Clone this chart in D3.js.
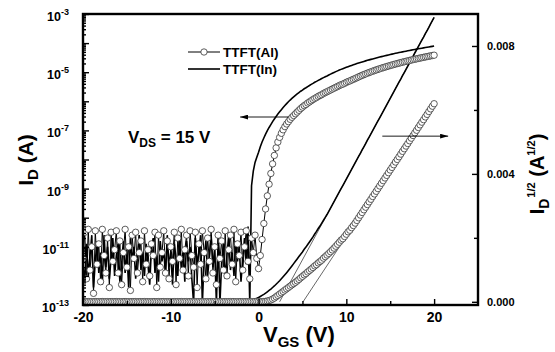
<!DOCTYPE html>
<html>
<head>
<meta charset="utf-8">
<script src="https://cdn.jsdelivr.net/npm/d3@7"></script>
<style>
  body { margin: 0; background: #fff; }
  svg { font-family: Arial, "Liberation Sans", sans-serif; }
</style>
</head>
<body>
<div id="chart"></div>
<script>
// gate voltage sweep: -20 V .. 20 V, 0.2 V per point
const vStart = -20;
const vStep = 0.2;

// log10(I_D) of TTFT(Al), one value per sweep point
const alLogId = [
  // off state, -20 .. -0.2 V
  -11.4, -10.5, -12.1, -10.4, -11.8, -11.0, -12.6, -10.45, -11.6, -10.9,
  -12.2, -10.4, -11.3, -11.9, -10.7, -12.4, -10.5, -11.5, -11.1, -10.45,
  -11.9, -10.8, -12.3, -11.2, -10.4, -11.7, -11.0, -12.5, -10.6, -11.4,
  -10.5, -11.9, -11.2, -10.8, -12.2, -10.45, -11.6, -11.1, -12.0, -10.9,
  -11.3, -10.5, -12.4, -10.6, -11.7, -11.2, -10.45, -11.9, -10.8, -12.1,
  -11.0, -11.5, -10.5, -12.3, -10.7, -11.4, -10.4, -11.8, -11.1, -10.6,
  -12.0, -10.45, -11.3, -11.7, -10.5, -12.4, -10.9, -11.6, -10.45, -11.2,
  -12.1, -10.7, -11.5, -10.4, -11.9, -11.0, -12.3, -10.6, -11.4, -10.8,
  -11.8, -10.45, -12.0, -11.1, -10.6, -11.6, -10.4, -12.2, -10.9, -11.3,
  -10.5, -11.8, -11.0, -10.45, -11.5, -12.1, -10.7, -11.2, -10.6, -11.4,
  // on state, 0 .. 20 V
  -11.75, -11.3, -10.75, -10.2, -9.7, -9.25, -8.85, -8.48, -8.15, -7.86,
  -7.6, -7.4, -7.24, -7.1, -6.98, -6.87, -6.78, -6.7, -6.62, -6.55,
  -6.49, -6.43, -6.37, -6.31, -6.25, -6.2, -6.15, -6.11, -6.06, -6.02,
  -5.98, -5.94, -5.9, -5.87, -5.83, -5.8, -5.77, -5.73, -5.7, -5.67,
  -5.64, -5.61, -5.58, -5.55, -5.52, -5.49, -5.46, -5.43, -5.41, -5.38,
  -5.35, -5.32, -5.3, -5.27, -5.245, -5.218, -5.189, -5.161, -5.134, -5.108,
  -5.082, -5.058, -5.034, -5.01, -4.988, -4.965, -4.944, -4.923, -4.902, -4.882,
  -4.862, -4.843, -4.824, -4.806, -4.788, -4.77, -4.753, -4.736, -4.719, -4.703,
  -4.687, -4.671, -4.655, -4.64, -4.625, -4.611, -4.596, -4.582, -4.568, -4.554,
  -4.541, -4.527, -4.514, -4.501, -4.489, -4.476, -4.464, -4.451, -4.439, -4.427,
  -4.416
];

// log10(I_D) of TTFT(In), one value per sweep point
const inLogId = [
  // off state, -20 .. -1.4 V
  -11.6, -12.2, -10.9, -12.0, -11.3, -10.6, -12.4, -11.5, -10.8, -11.9,
  -11.2, -12.3, -10.6, -11.7, -11.0, -12.1, -11.4, -10.7, -12.0, -11.3,
  -10.9, -12.2, -11.6, -10.8, -11.9, -11.1, -12.4, -10.7, -11.5, -11.0,
  -12.1, -11.3, -10.6, -11.8, -11.2, -12.0, -10.9, -11.6, -12.3, -11.0,
  -10.7, -11.9, -11.3, -12.2, -10.8, -11.5, -11.1, -12.0, -10.6, -11.7,
  -11.2, -12.3, -10.9, -11.4, -12.0, -10.7, -11.8, -11.1, -12.2, -10.8,
  -11.5, -11.0, -12.1, -12.95, -10.7, -11.6, -11.2, -10.6, -12.95, -11.4,
  -10.8, -12.0, -11.3, -10.6, -11.7, -11.1, -12.95, -10.7, -12.95, -11.5,
  -10.9, -12.1, -11.3, -10.6, -11.8, -11.2, -12.0, -10.8, -11.5, -11.0,
  -12.2, -11.4, -10.7, -11.6,
  // turn on, -1.2 .. 20 V
  -10.3, -12.95, -8.9, -8.4, -8.1, -7.92,
  -7.75, -7.56, -7.4, -7.26, -7.13, -7.01, -6.9, -6.8, -6.7, -6.61,
  -6.52, -6.44, -6.362, -6.287, -6.215, -6.146, -6.08, -6.017, -5.957, -5.9,
  -5.846, -5.795, -5.746, -5.699, -5.654, -5.614, -5.57, -5.534, -5.494, -5.456,
  -5.42, -5.385, -5.347, -5.315, -5.28, -5.251, -5.218, -5.187, -5.157, -5.128,
  -5.097, -5.067, -5.037, -5.009, -4.981, -4.954, -4.928, -4.903, -4.879, -4.855,
  -4.832, -4.809, -4.787, -4.766, -4.745, -4.724, -4.704, -4.685, -4.666, -4.647,
  -4.629, -4.611, -4.593, -4.576, -4.559, -4.543, -4.527, -4.511, -4.495, -4.48,
  -4.465, -4.45, -4.435, -4.421, -4.407, -4.393, -4.379, -4.366, -4.352, -4.339,
  -4.326, -4.314, -4.301, -4.289, -4.277, -4.265, -4.253, -4.241, -4.23, -4.218,
  -4.207, -4.196, -4.185, -4.174, -4.164, -4.153, -4.143, -4.133, -4.122, -4.112,
  -4.102
];

// straight-line fits of sqrt(I_D) used for the threshold voltage
const inFitV = [2.4, 20];
const inFitSqrt = [0, 0.00889];
const alFitV = [5.07, 20];
const alFitSqrt = [0, 0.0062];

// ticks
const xTicks = [-20, -10, 0, 10, 20];
const xMinorTicks = [-15, -5, 5, 15];
const yLogLabels = [-13, -11, -9, -7, -5, -3];
const yRightTicks = [0, 0.004, 0.008];
const yRightMinorTicks = [0.002, 0.006];

const width = 555, height = 352;
const margin = { top: 14, right: 77, bottom: 47, left: 83 };

const svg = d3.select("#chart").append("svg")
  .attr("width", width)
  .attr("height", height);

svg.append("rect").attr("width", width).attr("height", height).attr("fill", "#fff");

const x = d3.scaleLinear().domain([-20, 25]).range([margin.left, width - margin.right]);
const yLog = d3.scaleLog().domain([1e-13, 1e-3]).range([height - margin.bottom, margin.top]);
const yR = d3.scaleLinear().domain([-0.0001, 0.009]).range([height - margin.bottom, margin.top]);

const vAt = i => vStart + i * vStep;
const alData = alLogId.map((e, i) => ({ v: vAt(i), id: Math.pow(10, e) }));
const inData = inLogId.map((e, i) => ({ v: vAt(i), id: Math.pow(10, e) }));

svg.append("defs").append("clipPath").attr("id", "plot-clip")
  .append("rect")
  .attr("x", margin.left).attr("y", margin.top)
  .attr("width", width - margin.left - margin.right)
  .attr("height", height - margin.top - margin.bottom);

const plot = svg.append("g").attr("clip-path", "url(#plot-clip)");

const logLine = d3.line().x(d => x(d.v)).y(d => yLog(d.id));
const sqrtLine = d3.line().x(d => x(d.v)).y(d => yR(Math.sqrt(d.id)));

// thin fit lines
const fitLine = d3.line().x(d => x(d[0])).y(d => yR(d[1]));
plot.append("path")
  .attr("d", fitLine(d3.zip(inFitV, inFitSqrt)))
  .attr("fill", "none").attr("stroke", "#000").attr("stroke-width", 0.6);
plot.append("path")
  .attr("d", fitLine(d3.zip(alFitV, alFitSqrt)))
  .attr("fill", "none").attr("stroke", "#000").attr("stroke-width", 0.6);

// TTFT(In): solid lines
plot.append("path").attr("d", logLine(inData))
  .attr("fill", "none").attr("stroke", "#000").attr("stroke-width", 1.6);
plot.append("path").attr("d", sqrtLine(inData))
  .attr("fill", "none").attr("stroke", "#000").attr("stroke-width", 1.6);

// TTFT(Al): line + open circles
plot.append("path").attr("d", logLine(alData))
  .attr("fill", "none").attr("stroke", "#000").attr("stroke-width", 1);
plot.append("path").attr("d", sqrtLine(alData))
  .attr("fill", "none").attr("stroke", "#000").attr("stroke-width", 1);

plot.selectAll("circle.al-log")
  .data(alData)
  .join("circle")
  .attr("class", "al-log")
  .attr("cx", d => x(d.v))
  .attr("cy", d => yLog(d.id))
  .attr("r", 3.2)
  .attr("fill", "#fff").attr("stroke", "#333").attr("stroke-width", 0.8);

plot.selectAll("circle.al-sqrt")
  .data(alData)
  .join("circle")
  .attr("class", "al-sqrt")
  .attr("cx", d => x(d.v))
  .attr("cy", d => yR(Math.sqrt(d.id)))
  .attr("r", 3.2)
  .attr("fill", "#fff").attr("stroke", "#333").attr("stroke-width", 0.8);

// frame
svg.append("rect")
  .attr("x", margin.left).attr("y", margin.top)
  .attr("width", width - margin.left - margin.right)
  .attr("height", height - margin.top - margin.bottom)
  .attr("fill", "none").attr("stroke", "#000").attr("stroke-width", 2.4);

// bottom axis, ticks point inward
const xAxisG = svg.append("g")
  .attr("transform", `translate(0,${height - margin.bottom})`)
  .call(d3.axisBottom(x).tickValues(xTicks).tickSize(-6).tickPadding(7).tickFormat(d => String(d)));
svg.append("g")
  .attr("transform", `translate(0,${height - margin.bottom})`)
  .call(d3.axisBottom(x).tickValues(xMinorTicks).tickSize(-4).tickFormat(""));

// left log axis
const decades = d3.range(-13, -2).map(e => Math.pow(10, e));
const minorLog = [];
d3.range(-13, -3).forEach(e => d3.range(2, 10).forEach(m => minorLog.push(m * Math.pow(10, e))));
svg.append("g")
  .attr("transform", `translate(${margin.left},0)`)
  .call(d3.axisLeft(yLog).tickValues(decades).tickSize(-6).tickFormat(""));
svg.append("g")
  .attr("transform", `translate(${margin.left},0)`)
  .call(d3.axisLeft(yLog).tickValues(minorLog).tickSize(-3).tickFormat(""));

const yLabels = svg.append("g").attr("font-weight", "bold").attr("fill", "#000");
yLogLabels.forEach(e => {
  const t = yLabels.append("text")
    .attr("x", 69)
    .attr("y", yLog(Math.pow(10, e)) + 7)
    .attr("text-anchor", "end")
    .attr("font-size", 12.5);
  t.append("tspan").text("10");
  t.append("tspan").attr("dy", -6).attr("font-size", 9).text(String(e));
});

// right sqrt axis
const rAxisG = svg.append("g")
  .attr("transform", `translate(${width - margin.right},0)`)
  .call(d3.axisRight(yR).tickValues(yRightTicks).tickSize(-6).tickPadding(9).tickFormat(d3.format(".3f")));
svg.append("g")
  .attr("transform", `translate(${width - margin.right},0)`)
  .call(d3.axisRight(yR).tickValues(yRightMinorTicks).tickSize(-4).tickFormat(""));

svg.selectAll(".domain").remove();
svg.selectAll(".tick line").attr("stroke", "#000").attr("stroke-width", 1.4);
svg.selectAll(".tick text").attr("font-family", "Arial, 'Liberation Sans', sans-serif").attr("font-weight", "bold").attr("fill", "#000");
xAxisG.selectAll(".tick text").attr("font-size", 14);
rAxisG.selectAll(".tick text").attr("font-size", 11);

// axis titles
const xTitle = svg.append("text")
  .attr("x", 263).attr("y", 342)
  .attr("font-size", 22).attr("font-weight", "bold");
xTitle.append("tspan").text("V");
xTitle.append("tspan").attr("dy", 5).attr("font-size", 15).text("GS");
xTitle.append("tspan").attr("dy", -5).text(" (V)");

const yTitle = svg.append("text")
  .attr("transform", "translate(33,160) rotate(-90)")
  .attr("text-anchor", "middle")
  .attr("font-size", 21).attr("font-weight", "bold");
yTitle.append("tspan").text("I");
yTitle.append("tspan").attr("dy", 5).attr("font-size", 15).text("D");
yTitle.append("tspan").attr("dy", -5).text(" (A)");

const rTitle = svg.append("text")
  .attr("transform", "translate(544,174) rotate(-90)")
  .attr("text-anchor", "middle")
  .attr("font-size", 20).attr("font-weight", "bold");
rTitle.append("tspan").text("I");
rTitle.append("tspan").attr("dy", 5).attr("font-size", 14).text("D");
rTitle.append("tspan").attr("dy", -14).attr("font-size", 11).attr("dx", 1).text("1/2");
rTitle.append("tspan").attr("dy", 9).text(" (A");
rTitle.append("tspan").attr("dy", -9).attr("font-size", 11).text("1/2");
rTitle.append("tspan").attr("dy", 9).text(")");

// V_DS annotation
const vds = svg.append("text")
  .attr("x", 128).attr("y", 143)
  .attr("font-size", 17).attr("font-weight", "bold");
vds.append("tspan").text("V");
vds.append("tspan").attr("dy", 4).attr("font-size", 12).text("DS");
vds.append("tspan").attr("dy", -4).text(" = 15 V");

// arrows pointing at each axis
svg.append("defs").append("marker")
  .attr("id", "arrowhead")
  .attr("viewBox", "0 0 10 6")
  .attr("refX", 10).attr("refY", 3)
  .attr("markerWidth", 8).attr("markerHeight", 5)
  .attr("markerUnits", "userSpaceOnUse")
  .attr("orient", "auto")
  .append("path").attr("d", "M0,0 L10,3 L0,6 Z").attr("fill", "#000");

const leftArrowV = [3.4, -2.1];
const leftArrowI = 10 ** -6.54;
const rightArrowV = [14.1, 21.6];
const rightArrowSqrt = 0.00518;

svg.append("line")
  .attr("x1", x(leftArrowV[0])).attr("x2", x(leftArrowV[1]))
  .attr("y1", yLog(leftArrowI)).attr("y2", yLog(leftArrowI))
  .attr("stroke", "#000").attr("stroke-width", 0.9)
  .attr("marker-end", "url(#arrowhead)");
svg.append("line")
  .attr("x1", x(rightArrowV[0])).attr("x2", x(rightArrowV[1]))
  .attr("y1", yR(rightArrowSqrt)).attr("y2", yR(rightArrowSqrt))
  .attr("stroke", "#000").attr("stroke-width", 0.9)
  .attr("marker-end", "url(#arrowhead)");

// legend
const legend = svg.append("g").attr("transform", "translate(188,52)");
legend.append("line").attr("x1", 0).attr("x2", 32).attr("y1", 0).attr("y2", 0)
  .attr("stroke", "#000").attr("stroke-width", 1);
legend.append("circle").attr("cx", 16).attr("cy", 0).attr("r", 3.2)
  .attr("fill", "#fff").attr("stroke", "#333").attr("stroke-width", 0.8);
legend.append("text").attr("x", 35).attr("y", 5)
  .attr("font-size", 13.5).attr("font-weight", "bold").text("TTFT(Al)");
legend.append("line").attr("x1", 0).attr("x2", 32).attr("y1", 17).attr("y2", 17)
  .attr("stroke", "#000").attr("stroke-width", 1.6);
legend.append("text").attr("x", 35).attr("y", 22)
  .attr("font-size", 13.5).attr("font-weight", "bold").text("TTFT(In)");
</script>
</body>
</html>
